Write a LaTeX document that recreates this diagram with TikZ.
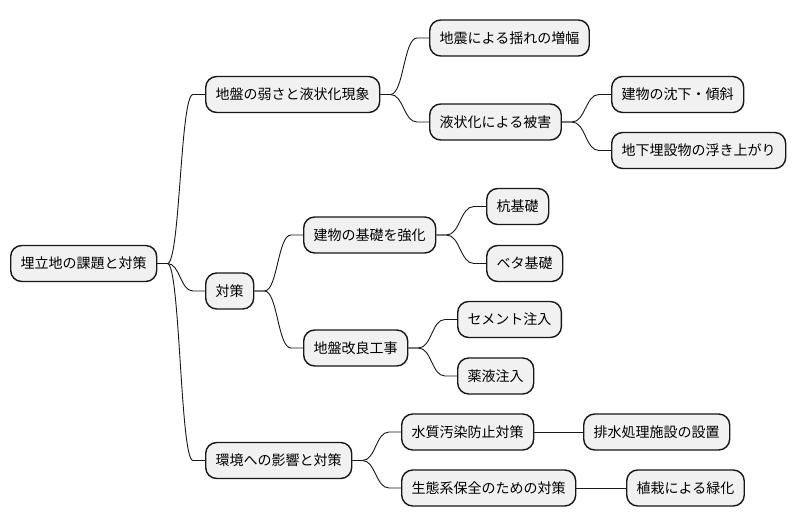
\documentclass[tikz,border=0pt]{standalone}
\usepackage{fontspec}
\setmainfont{Noto Sans CJK JP}
\usetikzlibrary{calc}
\definecolor{boxfill}{HTML}{F1F1F1}
\definecolor{boxline}{HTML}{181818}
\tikzset{
  mmbox/.style={draw=boxline, fill=boxfill, line width=1.4pt, rounded corners=11pt,
    minimum height=36pt, inner xsep=10pt, inner ysep=0pt, anchor=west,
    font=\fontsize{14}{16}\selectfont, text=black},
  edge/.style={draw=boxline, line width=0.9pt}
}
\newcommand{\mmconn}[2]{%
  \draw[edge] let \p1=(#1.east), \p2=(#2.west) in
    (\p1) -- (\x1+10pt,\y1)
    .. controls ({(\x1+10pt+\x2-12pt)/2},\y1) and ({(\x1+10pt+\x2-12pt)/2},\y2) ..
    (\x2-12pt,\y2) -- (\p2);}
\begin{document}
\begin{tikzpicture}[x=1pt,y=1pt]
\useasboundingbox[fill=white] (0,0) rectangle (796,-527);
\node[mmbox] (r) at (10,-263.5) {埋立地の課題と対策};
\node[mmbox] (a) at (205,-94.5) {地盤の弱さと液状化現象};
\node[mmbox] (a1) at (429,-38) {地震による揺れの増幅};
\node[mmbox] (a2) at (429,-122) {液状化による被害};
\node[mmbox] (a21) at (611,-94.5) {建物の沈下・傾斜};
\node[mmbox] (a22) at (611,-150.5) {地下埋設物の浮き上がり};
\node[mmbox] (b) at (205,-291) {対策};
\node[mmbox] (b1) at (303,-235) {建物の基礎を強化};
\node[mmbox] (b11) at (486,-206.5) {杭基礎};
\node[mmbox] (b12) at (486,-263.5) {ベタ基礎};
\node[mmbox] (b2) at (303,-348) {地盤改良工事};
\node[mmbox] (b21) at (457,-319.5) {セメント注入};
\node[mmbox] (b22) at (457,-376) {薬液注入};
\node[mmbox] (c) at (205,-460.5) {環境への影響と対策};
\node[mmbox] (c1) at (401,-432) {水質汚染防止対策};
\node[mmbox] (c11) at (583,-432) {排水処理施設の設置};
\node[mmbox] (c2) at (401,-488) {生態系保全のための対策};
\node[mmbox] (c21) at (626,-488) {植栽による緑化};
\mmconn{r}{a}
\mmconn{r}{b}
\mmconn{r}{c}
\mmconn{a}{a1}
\mmconn{a}{a2}
\mmconn{a2}{a21}
\mmconn{a2}{a22}
\mmconn{b}{b1}
\mmconn{b}{b2}
\mmconn{b1}{b11}
\mmconn{b1}{b12}
\mmconn{b2}{b21}
\mmconn{b2}{b22}
\mmconn{c}{c1}
\mmconn{c}{c2}
\draw[edge] (c1.east) -- (c11.west);
\draw[edge] (c2.east) -- (c21.west);
\end{tikzpicture}
\end{document}
